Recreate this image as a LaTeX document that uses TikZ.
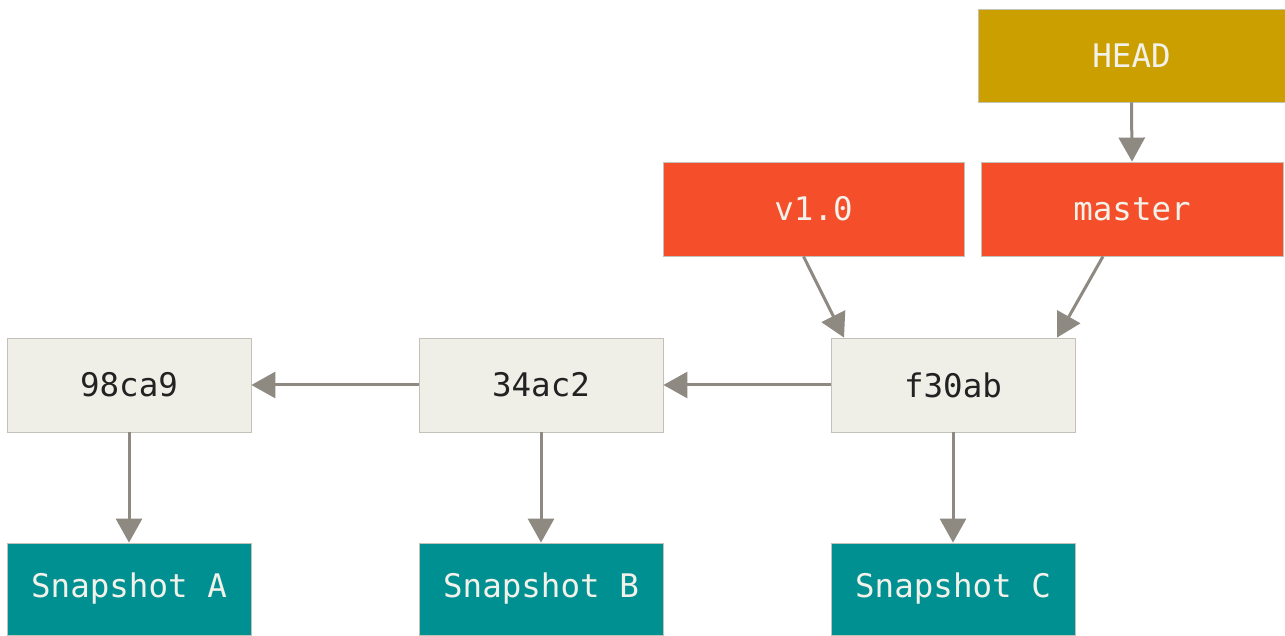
\documentclass[tikz,border=0pt]{standalone}
\usepackage{fontspec}
\newfontfamily\gitmono{DejaVu Sans Mono}
\usetikzlibrary{arrows.meta}
\definecolor{commitfill}{HTML}{EFEFE8}
\definecolor{boxline}{HTML}{C4C1B8}
\definecolor{headfill}{HTML}{CC9F00}
\definecolor{reffill}{HTML}{F44E2A}
\definecolor{snapfill}{HTML}{009092}
\definecolor{arrowcol}{HTML}{8E8981}
\definecolor{lighttext}{HTML}{F2F1EA}
\definecolor{darktext}{HTML}{222222}
\begin{document}
\begin{tikzpicture}[x=1pt,y=1pt,
  basebox/.style={draw=boxline,line width=0.8pt,inner sep=0pt,
    font=\gitmono\fontsize{32.5}{38}\selectfont},
  commit/.style={basebox,fill=commitfill,text=darktext,minimum width=244pt,minimum height=94pt},
  snap/.style={basebox,fill=snapfill,text=lighttext,minimum width=244pt,minimum height=92pt},
  refbox/.style={basebox,fill=reffill,text=lighttext,minimum width=301pt,minimum height=94pt},
  headbox/.style={basebox,fill=headfill,text=lighttext,minimum width=307pt,minimum height=93pt},
  link/.style={draw=arrowcol,line width=3pt,-{Triangle[width=26pt,length=24pt]}}
]
\useasboundingbox (0,0) rectangle (1285,635);
\node[commit] (c1) at (129,250) {98ca9};
\node[commit] (c2) at (541,250) {34ac2};
\node[commit] (c3) at (953,250) {f30ab};
\node[snap] (sa) at (129,46) {Snapshot A};
\node[snap] (sb) at (541,46) {Snapshot B};
\node[snap] (sc) at (953,46) {Snapshot C};
\node[refbox] (v10) at (813.5,426) {v1.0};
\node[refbox,minimum width=302pt] (master) at (1132,426) {master};
\node[headbox] (head) at (1131.5,579.5) {HEAD};
\draw[link] (c2.west) -- (c1.east);
\draw[link] (c3.west) -- (c2.east);
\draw[link] (c1.south) -- (sa.north);
\draw[link] (c2.south) -- (sb.north);
\draw[link] (c3.south) -- (sc.north);
\draw[link] (head.south) -- (master.north);
\draw[link] ([xshift=-10pt]v10.south) -- ([xshift=-109pt]c3.north);
\draw[link] ([xshift=-29pt]master.south) -- ([xshift=104pt]c3.north);
\end{tikzpicture}
\end{document}
